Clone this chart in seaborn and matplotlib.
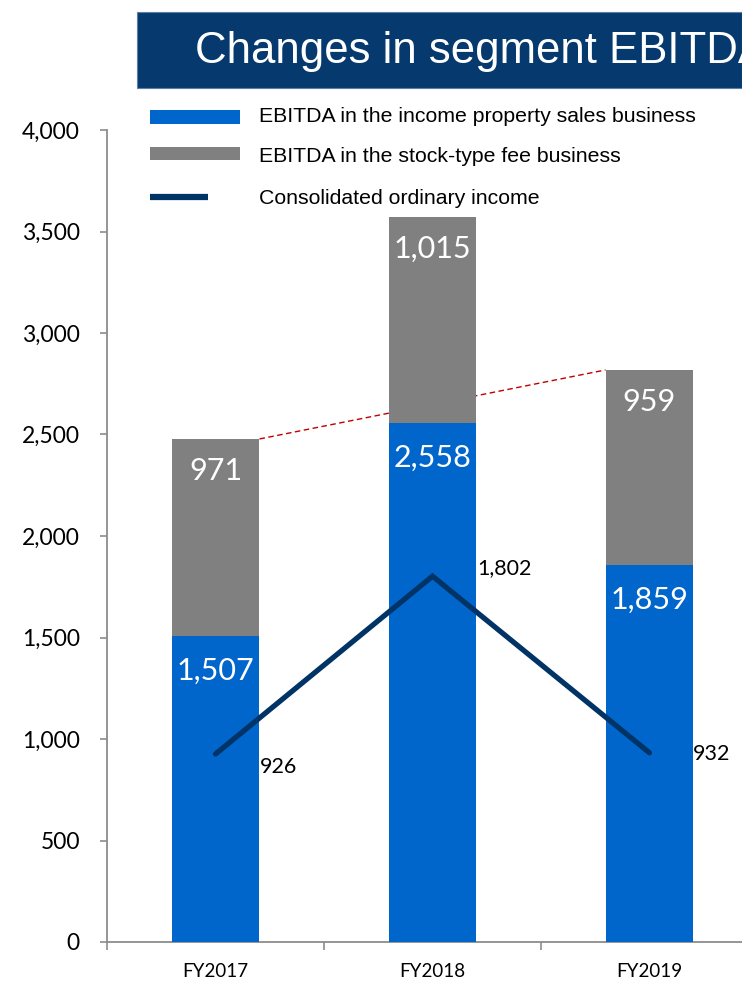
import matplotlib
matplotlib.use("Agg")
import matplotlib.pyplot as plt
from matplotlib.patches import Rectangle
from matplotlib.lines import Line2D
import seaborn as sns
import pandas as pd
import numpy as np

# Segment EBITDA by fiscal year
years = ["FY2017", "FY2018", "FY2019"]
property_sales = [1507, 2558, 1859]
stock_fee = [971, 1015, 959]
ordinary_income = [926, 1802, 932]
y_ticks = [0, 500, 1000, 1500, 2000, 2500, 3000, 3500, 4000]

legend_labels = [
    "EBITDA in the income property sales business",
    "EBITDA in the stock-type fee business",
    "Consolidated ordinary income",
]
title_text = "Changes in segment EBITDA"

BLUE = "#0066CC"
GRAY = "#808080"
NAVY = "#003366"
BANNER = "#063A6E"
RED = "#C00000"
AXIS = "#8C8C8C"

sns.set_theme(style="white")
plt.rcParams["font.family"] = ["Lato", "DejaVu Sans"]

W, H = 742, 981
fig = plt.figure(figsize=(W / 100, H / 100), dpi=100)


def fx(x):
    return x / W


def fy(y):
    return 1 - y / H


ax = fig.add_axes([fx(107), fy(942), (758 - 107) / W, (942 - 130) / H])

df = pd.DataFrame({
    "year": years,
    "property": property_sales,
    "fee": stock_fee,
})
df["total"] = df["property"] + df["fee"]

bar_w = 0.405
# total bar in gray, property-sales portion drawn over it in blue
sns.barplot(data=df, x="year", y="total", color=GRAY, width=bar_w,
            saturation=1, ax=ax, zorder=2, linewidth=0)
sns.barplot(data=df, x="year", y="property", color=BLUE, width=bar_w,
            saturation=1, ax=ax, zorder=3, linewidth=0)

# dashed trend between the first and last totals
xs = np.arange(len(years))
ax.plot([xs[0] + bar_w / 2, xs[-1] - bar_w / 2],
        [df["total"].iloc[0], df["total"].iloc[-1]],
        color=RED, lw=1.0, ls=(0, (4, 2.5)), zorder=1)

# consolidated ordinary income line
sns.lineplot(x=xs, y=ordinary_income, color=NAVY, lw=3.8, ax=ax,
             zorder=4, solid_capstyle="round", solid_joinstyle="miter")

# value labels inside the bars
for i, (p, f, t) in enumerate(zip(property_sales, stock_fee, df["total"])):
    ax.annotate(f"{p:,}", (i, p), xytext=(0, -25), textcoords="offset points",
                ha="center", va="center", color="white", fontsize=22, zorder=5)
    ax.annotate(f"{f:,}", (i, t), xytext=(0, -23), textcoords="offset points",
                ha="center", va="center", color="white", fontsize=22, zorder=5)

# ordinary income labels to the right of each point
income_offsets = [(32, -9), (32, 6), (31, -1)]
for i, (v, off) in enumerate(zip(ordinary_income, income_offsets)):
    ax.annotate(f"{v:,}", (i, v), xytext=off, textcoords="offset points",
                ha="left", va="center", color="black", fontsize=15.5, zorder=5)

ax.set_xlim(-0.5, len(years) - 0.5)
ax.set_ylim(0, 4000)
ax.set_yticks(y_ticks)
ax.set_yticklabels([f"{v:,}" for v in y_ticks])
ax.set_xlabel("")
ax.set_ylabel("")
ax.set_xticks(xs)
ax.set_xticklabels(years)
ax.set_xticks(np.arange(-0.5, len(years), 1.0), minor=True)

sns.despine(ax=ax, top=True, right=True)
for s in ("left", "bottom"):
    ax.spines[s].set_color(AXIS)
    ax.spines[s].set_linewidth(1.3)

ax.tick_params(axis="y", which="major", direction="out", length=5, width=1.2,
               color=AXIS, labelsize=16.5, labelcolor="black", pad=14.5, left=True)
ax.tick_params(axis="x", which="major", length=0, labelsize=13.5,
               labelcolor="black", pad=15)
ax.tick_params(axis="x", which="minor", direction="out", length=6, width=1.2,
               color=AXIS, bottom=True)

# title banner
fig.add_artist(Rectangle((fx(137), fy(88)), (W - 137) / W, (88 - 12) / H,
                         transform=fig.transFigure, facecolor=BANNER,
                         edgecolor="#5A7FA8", lw=0.8, zorder=10))
fig.text(fx(195), fy(51), title_text, color="white", fontsize=31.5,
         family=["Liberation Sans", "DejaVu Sans"], va="center", ha="left",
         zorder=11)

# legend
fig.add_artist(Rectangle((fx(150), fy(124)), 90 / W, 14 / H,
                         transform=fig.transFigure, facecolor=BLUE, lw=0))
fig.add_artist(Rectangle((fx(150), fy(160)), 90 / W, 13 / H,
                         transform=fig.transFigure, facecolor=GRAY, lw=0))
fig.add_artist(Line2D([fx(150), fx(208)], [fy(197), fy(197)],
                      transform=fig.transFigure, color=NAVY, lw=4.5,
                      solid_capstyle="butt"))
for label, yy in zip(legend_labels, [116, 157, 198]):
    fig.text(fx(259), fy(yy), label, color="black", fontsize=15.3,
             family=["Liberation Sans", "DejaVu Sans"], va="center", ha="left")

fig.savefig("out.png", dpi=100)
